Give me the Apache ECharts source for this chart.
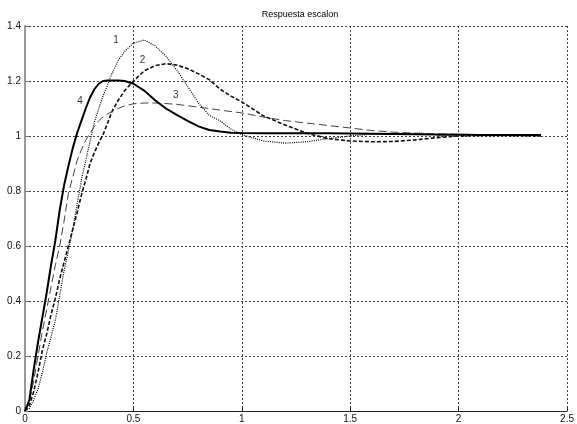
<!DOCTYPE html>
<html>
<head>
<meta charset="utf-8">
<script src="https://cdn.jsdelivr.net/npm/echarts@6/dist/echarts.min.js"></script>
<style>
html,body{margin:0;padding:0;background:#fff;}
#c{width:577px;height:424px;}
</style>
</head>
<body>
<div id="c"></div>
<script>
var titleText = 'Respuesta escalon';
var xTicks = ['0', '0.5', '1', '1.5', '2', '2.5'];
var yTicks = ['0', '0.2', '0.4', '0.6', '0.8', '1', '1.2', '1.4'];

var t = [0, 0.02, 0.04, 0.06, 0.08, 0.1, 0.12, 0.14, 0.16, 0.18, 0.2, 0.22, 0.24, 0.26, 0.28, 0.3, 0.32, 0.34, 0.36, 0.38, 0.4, 0.43, 0.46, 0.5, 0.55, 0.6, 0.65, 0.7, 0.75, 0.8, 0.85, 0.9, 0.95, 1.0, 1.1, 1.2, 1.3, 1.4, 1.5, 1.6, 1.7, 1.8, 1.9, 2.0, 2.1, 2.2, 2.3, 2.38];

var y1 = [0, 0.01, 0.04, 0.08, 0.14, 0.21, 0.27, 0.33, 0.42, 0.51, 0.58, 0.66, 0.75, 0.84, 0.91, 0.98, 1.05, 1.1, 1.145, 1.185, 1.225, 1.275, 1.308, 1.338, 1.349, 1.328, 1.29, 1.24, 1.18, 1.12, 1.075, 1.055, 1.025, 1.005, 0.982, 0.974, 0.979, 0.991, 1.0, 1.007, 1.01, 1.01, 1.008, 1.006, 1.005, 1.004, 1.003, 1.003];

var y2 = [0, 0.02, 0.07, 0.14, 0.22, 0.28, 0.35, 0.41, 0.48, 0.54, 0.6, 0.66, 0.72, 0.785, 0.84, 0.9, 0.94, 0.975, 1.005, 1.045, 1.087, 1.13, 1.165, 1.2, 1.237, 1.256, 1.263, 1.258, 1.245, 1.226, 1.205, 1.17, 1.145, 1.124, 1.073, 1.04, 1.01, 0.99, 0.982, 0.979, 0.98, 0.986, 0.994, 1.0, 1.002, 1.002, 1.001, 1.0];

var y3 = [0, 0.03, 0.11, 0.2, 0.29, 0.37, 0.45, 0.53, 0.6, 0.69, 0.79, 0.85, 0.91, 0.95, 0.985, 1.01, 1.035, 1.055, 1.07, 1.08, 1.088, 1.1, 1.11, 1.117, 1.12, 1.12, 1.118, 1.115, 1.11, 1.105, 1.1, 1.094, 1.089, 1.084, 1.069, 1.056, 1.047, 1.038, 1.029, 1.02, 1.014, 1.01, 1.008, 1.006, 1.005, 1.004, 1.004, 1.003];

var y4 = [0, 0.04, 0.15, 0.25, 0.34, 0.43, 0.53, 0.62, 0.73, 0.82, 0.89, 0.955, 1.01, 1.055, 1.1, 1.14, 1.17, 1.19, 1.2, 1.202, 1.202, 1.202, 1.2, 1.19, 1.165, 1.13, 1.1, 1.077, 1.055, 1.035, 1.022, 1.016, 1.012, 1.011, 1.01, 1.01, 1.01, 1.01, 1.009, 1.008, 1.007, 1.006, 1.005, 1.005, 1.004, 1.004, 1.004, 1.004];

var curveLabels = [[0.42, 1.35, '1'], [0.542, 1.275, '2'], [0.695, 1.148, '3'], [0.254, 1.128, '4']];

function pairs(ys) { return t.map(function (x, i) { return [x, ys[i]]; }); }

var FONT = 'Liberation Sans';
var gridLine = { show: true, lineStyle: { color: '#444', width: 1, type: [2, 2] } };

var chart = echarts.init(document.getElementById('c'), null, { renderer: 'canvas' });
chart.setOption({
  animation: false,
  backgroundColor: '#fff',
  title: {
    text: titleText, left: 300, top: 10, textAlign: 'center', padding: 0,
    textStyle: { fontFamily: FONT, fontSize: 9, fontWeight: 'normal', color: '#000' }
  },
  grid: { left: 25, right: 3, top: 26, bottom: 13, containLabel: false },
  xAxis: {
    type: 'value', min: 0, max: 2.5, interval: 0.5,
    axisLine: { show: true, lineStyle: { color: '#222', width: 1 } },
    axisTick: { show: true, inside: true, length: 4, lineStyle: { color: '#222' } },
    axisLabel: { margin: 3, fontFamily: FONT, fontSize: 10, color: '#111',
      formatter: function (v) { return xTicks[Math.round(v / 0.5)]; } },
    splitLine: gridLine
  },
  yAxis: {
    type: 'value', min: 0, max: 1.4, interval: 0.2,
    axisLine: { show: true, lineStyle: { color: '#999', width: 2 } },
    axisTick: { show: true, inside: true, length: 4, lineStyle: { color: '#777' } },
    axisLabel: { margin: 4, fontFamily: FONT, fontSize: 10, color: '#111',
      formatter: function (v) { return yTicks[Math.round(v / 0.2)]; } },
    splitLine: gridLine
  },
  series: [
    { name: '1', type: 'line', data: pairs(y1), symbol: 'none', z: 3,
      lineStyle: { color: '#000', width: 1.2, type: [1, 1.2] } },
    { name: '2', type: 'line', data: pairs(y2), symbol: 'none', z: 3,
      lineStyle: { color: '#111', width: 1.6, type: [4, 2] } },
    { name: '3', type: 'line', data: pairs(y3), symbol: 'none', z: 3,
      lineStyle: { color: '#444', width: 1, type: [8, 4] } },
    { name: '4', type: 'line', data: pairs(y4), symbol: 'none', z: 4,
      lineStyle: { color: '#000', width: 2 } },
    { name: 'labels', type: 'scatter', data: curveLabels, symbolSize: 0, z: 5,
      label: { show: true, position: 'inside', fontFamily: FONT, fontSize: 10, color: '#000',
        formatter: function (p) { return p.data[2]; } } }
  ]
});
</script>
</body>
</html>
